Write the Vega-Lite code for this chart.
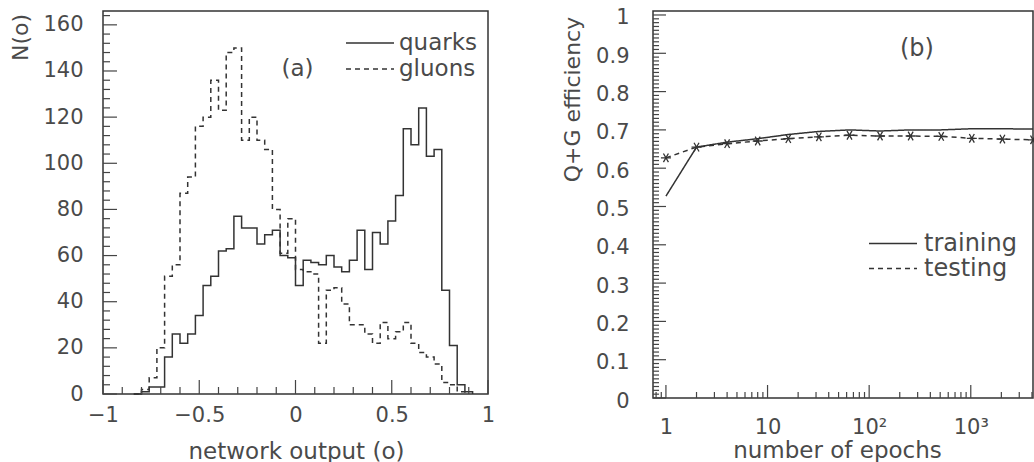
{
  "$schema": "https://vega.github.io/schema/vega-lite/v6.json",
  "padding": {"left": 8, "top": 6, "right": 0, "bottom": 0},
  "background": "white",
  "bounds": "flush",
  "spacing": 165,
  "datasets": {
    "hist": [
      {"s": "quarks", "x": -0.84, "n": 0}, {"s": "quarks", "x": -0.80, "n": 1}, {"s": "quarks", "x": -0.76, "n": 3}, {"s": "quarks", "x": -0.72, "n": 3},
      {"s": "quarks", "x": -0.68, "n": 16}, {"s": "quarks", "x": -0.64, "n": 26}, {"s": "quarks", "x": -0.60, "n": 22}, {"s": "quarks", "x": -0.56, "n": 26},
      {"s": "quarks", "x": -0.52, "n": 34}, {"s": "quarks", "x": -0.48, "n": 47}, {"s": "quarks", "x": -0.44, "n": 51}, {"s": "quarks", "x": -0.40, "n": 62},
      {"s": "quarks", "x": -0.36, "n": 63}, {"s": "quarks", "x": -0.32, "n": 77}, {"s": "quarks", "x": -0.28, "n": 72}, {"s": "quarks", "x": -0.24, "n": 72},
      {"s": "quarks", "x": -0.20, "n": 65}, {"s": "quarks", "x": -0.16, "n": 69}, {"s": "quarks", "x": -0.12, "n": 71}, {"s": "quarks", "x": -0.08, "n": 60},
      {"s": "quarks", "x": -0.04, "n": 59}, {"s": "quarks", "x": 0.00, "n": 47}, {"s": "quarks", "x": 0.04, "n": 58}, {"s": "quarks", "x": 0.08, "n": 57},
      {"s": "quarks", "x": 0.12, "n": 56}, {"s": "quarks", "x": 0.16, "n": 60}, {"s": "quarks", "x": 0.20, "n": 55}, {"s": "quarks", "x": 0.24, "n": 53},
      {"s": "quarks", "x": 0.28, "n": 58}, {"s": "quarks", "x": 0.32, "n": 71}, {"s": "quarks", "x": 0.36, "n": 54}, {"s": "quarks", "x": 0.40, "n": 70},
      {"s": "quarks", "x": 0.44, "n": 65}, {"s": "quarks", "x": 0.48, "n": 75}, {"s": "quarks", "x": 0.52, "n": 86}, {"s": "quarks", "x": 0.56, "n": 115},
      {"s": "quarks", "x": 0.60, "n": 108}, {"s": "quarks", "x": 0.64, "n": 124}, {"s": "quarks", "x": 0.68, "n": 103}, {"s": "quarks", "x": 0.72, "n": 106},
      {"s": "quarks", "x": 0.76, "n": 45}, {"s": "quarks", "x": 0.80, "n": 21}, {"s": "quarks", "x": 0.84, "n": 4}, {"s": "quarks", "x": 0.88, "n": 1},
      {"s": "quarks", "x": 0.92, "n": 0},
      {"s": "gluons", "x": -0.84, "n": 0}, {"s": "gluons", "x": -0.80, "n": 2}, {"s": "gluons", "x": -0.76, "n": 7}, {"s": "gluons", "x": -0.72, "n": 20},
      {"s": "gluons", "x": -0.68, "n": 51}, {"s": "gluons", "x": -0.64, "n": 56}, {"s": "gluons", "x": -0.60, "n": 87}, {"s": "gluons", "x": -0.56, "n": 94},
      {"s": "gluons", "x": -0.52, "n": 116}, {"s": "gluons", "x": -0.48, "n": 120}, {"s": "gluons", "x": -0.44, "n": 136}, {"s": "gluons", "x": -0.40, "n": 123},
      {"s": "gluons", "x": -0.36, "n": 148}, {"s": "gluons", "x": -0.32, "n": 150}, {"s": "gluons", "x": -0.28, "n": 110}, {"s": "gluons", "x": -0.24, "n": 120},
      {"s": "gluons", "x": -0.20, "n": 110}, {"s": "gluons", "x": -0.16, "n": 106}, {"s": "gluons", "x": -0.12, "n": 80}, {"s": "gluons", "x": -0.08, "n": 61},
      {"s": "gluons", "x": -0.04, "n": 76}, {"s": "gluons", "x": 0.00, "n": 54}, {"s": "gluons", "x": 0.04, "n": 53}, {"s": "gluons", "x": 0.08, "n": 52},
      {"s": "gluons", "x": 0.12, "n": 22}, {"s": "gluons", "x": 0.16, "n": 45}, {"s": "gluons", "x": 0.20, "n": 46}, {"s": "gluons", "x": 0.24, "n": 39},
      {"s": "gluons", "x": 0.28, "n": 30}, {"s": "gluons", "x": 0.32, "n": 30}, {"s": "gluons", "x": 0.36, "n": 26}, {"s": "gluons", "x": 0.40, "n": 22},
      {"s": "gluons", "x": 0.44, "n": 31}, {"s": "gluons", "x": 0.48, "n": 24}, {"s": "gluons", "x": 0.52, "n": 27}, {"s": "gluons", "x": 0.56, "n": 31},
      {"s": "gluons", "x": 0.60, "n": 22}, {"s": "gluons", "x": 0.64, "n": 18}, {"s": "gluons", "x": 0.68, "n": 16}, {"s": "gluons", "x": 0.72, "n": 13},
      {"s": "gluons", "x": 0.76, "n": 5}, {"s": "gluons", "x": 0.80, "n": 4}, {"s": "gluons", "x": 0.84, "n": 1}, {"s": "gluons", "x": 0.88, "n": 0}
    ],
    "eff": [
      {"run": "training", "epochs": 1, "eff": 0.527}, {"run": "training", "epochs": 2, "eff": 0.655}, {"run": "training", "epochs": 4, "eff": 0.668},
      {"run": "training", "epochs": 8, "eff": 0.677}, {"run": "training", "epochs": 16, "eff": 0.688}, {"run": "training", "epochs": 32, "eff": 0.696},
      {"run": "training", "epochs": 64, "eff": 0.700}, {"run": "training", "epochs": 128, "eff": 0.697}, {"run": "training", "epochs": 256, "eff": 0.700},
      {"run": "training", "epochs": 512, "eff": 0.700}, {"run": "training", "epochs": 1024, "eff": 0.703}, {"run": "training", "epochs": 2048, "eff": 0.703},
      {"run": "training", "epochs": 4096, "eff": 0.702},
      {"run": "testing", "epochs": 1, "eff": 0.627}, {"run": "testing", "epochs": 2, "eff": 0.655}, {"run": "testing", "epochs": 4, "eff": 0.664},
      {"run": "testing", "epochs": 8, "eff": 0.671}, {"run": "testing", "epochs": 16, "eff": 0.677}, {"run": "testing", "epochs": 32, "eff": 0.682},
      {"run": "testing", "epochs": 64, "eff": 0.686}, {"run": "testing", "epochs": 128, "eff": 0.684}, {"run": "testing", "epochs": 256, "eff": 0.684},
      {"run": "testing", "epochs": 512, "eff": 0.683}, {"run": "testing", "epochs": 1024, "eff": 0.678}, {"run": "testing", "epochs": 2048, "eff": 0.676},
      {"run": "testing", "epochs": 4096, "eff": 0.674}
    ]
  },
  "hconcat": [
    {
      "width": 385,
      "height": 383,
      "layer": [
        {
          "data": {"name": "hist"},
          "mark": {"type": "line", "interpolate": "step-after", "color": "#333", "strokeWidth": 1.5},
          "encoding": {
            "x": {"field": "x", "type": "quantitative", "scale": {"domain": [-1, 1], "nice": false, "zero": false},
              "axis": {"orient": "bottom", "values": [-1, -0.5, 0, 0.5, 1], "format": ".1~f", "ticks": false, "domain": false, "grid": false, "labelFlush": false, "labelOverlap": false, "labelPadding": 10, "labelFontSize": 21,
                "title": "network output (o)", "titleFontSize": 23, "titleX": 193, "titleY": 46, "titleBaseline": "top", "titleAlign": "center"}},
            "y": {"field": "n", "type": "quantitative", "scale": {"domain": [0, 166], "nice": false, "zero": false},
              "axis": {"orient": "left", "values": [0, 20, 40, 60, 80, 100, 120, 140, 160], "ticks": false, "domain": false, "grid": false, "labelOverlap": false, "labelPadding": 20, "labelFontSize": 21,
                "title": "N(o)", "titleFontSize": 22, "titleX": -76, "titleY": 26, "titleAngle": -90, "titleAlign": "center", "titleBaseline": "alphabetic"}},
            "strokeDash": {"field": "s", "type": "nominal", "sort": ["quarks", "gluons"], "scale": {"domain": ["quarks", "gluons"], "range": [[1, 0], [5, 4]]},
              "legend": {"orient": "none", "legendX": 242, "legendY": 19, "title": null, "symbolType": "stroke", "symbolSize": 2304, "symbolStrokeWidth": 1.5, "symbolStrokeColor": "#333",
                "clipHeight": 26, "rowPadding": 0, "padding": 0, "labelOffset": 4, "labelFontSize": 23}}
          }
        },
        {
          "data": {"values": [{}]},
          "mark": {"type": "text", "fontSize": 23, "color": "#4a4a4a", "align": "center", "baseline": "middle"},
          "encoding": {
            "x": {"datum": 0.01, "type": "quantitative", "scale": {"domain": [-1, 1], "nice": false, "zero": false}, "axis": null},
            "y": {"datum": 141, "type": "quantitative", "scale": {"domain": [0, 166], "nice": false, "zero": false}, "axis": null},
            "text": {"value": "(a)"}
          }
        },
        {
          "data": {"values": [{"v": -1}, {"v": -0.5}, {"v": 0}, {"v": 0.5}, {"v": 1}]},
          "mark": {"type": "rule", "color": "#444", "strokeWidth": 1.2},
          "encoding": {
            "x": {"field": "v", "type": "quantitative", "scale": {"domain": [-1, 1], "nice": false, "zero": false}, "axis": null},
            "y": {"datum": 0, "type": "quantitative", "scale": {"domain": [0, 166], "nice": false, "zero": false}, "axis": null},
            "y2": {"datum": 6.07}
          }
        },
        {
          "data": {"values": [{"v": -0.9}, {"v": -0.8}, {"v": -0.7}, {"v": -0.6}, {"v": -0.4}, {"v": -0.3}, {"v": -0.2}, {"v": -0.1}, {"v": 0.1}, {"v": 0.2}, {"v": 0.3}, {"v": 0.4}, {"v": 0.6}, {"v": 0.7}, {"v": 0.8}, {"v": 0.9}]},
          "mark": {"type": "rule", "color": "#444", "strokeWidth": 1.2},
          "encoding": {
            "x": {"field": "v", "type": "quantitative", "scale": {"domain": [-1, 1], "nice": false, "zero": false}, "axis": null},
            "y": {"datum": 0, "type": "quantitative", "scale": {"domain": [0, 166], "nice": false, "zero": false}, "axis": null},
            "y2": {"datum": 3.03}
          }
        },
        {
          "data": {"values": [{"v": 0}, {"v": 20}, {"v": 40}, {"v": 60}, {"v": 80}, {"v": 100}, {"v": 120}, {"v": 140}, {"v": 160}]},
          "mark": {"type": "rule", "color": "#444", "strokeWidth": 1.2},
          "encoding": {
            "x": {"datum": -1, "type": "quantitative", "scale": {"domain": [-1, 1], "nice": false, "zero": false}, "axis": null},
            "x2": {"datum": -0.9273},
            "y": {"field": "v", "type": "quantitative", "scale": {"domain": [0, 166], "nice": false, "zero": false}, "axis": null}
          }
        },
        {
          "data": {"values": [{"v": 4}, {"v": 8}, {"v": 12}, {"v": 16}, {"v": 24}, {"v": 28}, {"v": 32}, {"v": 36}, {"v": 44}, {"v": 48}, {"v": 52}, {"v": 56}, {"v": 64}, {"v": 68}, {"v": 72}, {"v": 76}, {"v": 84}, {"v": 88}, {"v": 92}, {"v": 96}, {"v": 104}, {"v": 108}, {"v": 112}, {"v": 116}, {"v": 124}, {"v": 128}, {"v": 132}, {"v": 136}, {"v": 144}, {"v": 148}, {"v": 152}, {"v": 156}, {"v": 164}]},
          "mark": {"type": "rule", "color": "#444", "strokeWidth": 1.2},
          "encoding": {
            "x": {"datum": -1, "type": "quantitative", "scale": {"domain": [-1, 1], "nice": false, "zero": false}, "axis": null},
            "x2": {"datum": -0.9636},
            "y": {"field": "v", "type": "quantitative", "scale": {"domain": [0, 166], "nice": false, "zero": false}, "axis": null}
          }
        }
      ],
      "resolve": {"scale": {"x": "independent", "y": "independent"}, "axis": {"x": "independent", "y": "independent"}}
    },
    {
      "width": 380,
      "height": 387,
      "layer": [
        {
          "data": {"name": "eff"},
          "mark": {"type": "line", "color": "#333", "strokeWidth": 1.5},
          "encoding": {
            "x": {"field": "epochs", "type": "quantitative", "scale": {"type": "log", "domain": [0.746, 4096], "nice": false},
              "axis": {"orient": "bottom", "values": [1, 10, 100, 1000], "ticks": false, "domain": false, "grid": false, "labelFlush": false, "labelOverlap": false, "labelPadding": 18, "labelFontSize": 21,
                "labelExpr": "datum.value == 1000 ? '10³' : datum.value == 100 ? '10²' : datum.value == 10 ? '10' : '1'",
                "title": "number of epochs", "titleFontSize": 23, "titleX": 184, "titleY": 41, "titleBaseline": "top", "titleAlign": "center"}},
            "y": {"field": "eff", "type": "quantitative", "scale": {"domain": [0, 1.0104], "nice": false, "zero": false},
              "axis": {"orient": "left", "values": [0, 0.1, 0.2, 0.3, 0.4, 0.5, 0.6, 0.7, 0.8, 0.9, 1], "format": ".1~f", "ticks": false, "domain": false, "grid": false, "labelOverlap": false, "labelPadding": 24, "labelOffset": 3, "labelFontSize": 21,
                "title": "Q+G efficiency", "titleFontSize": 22, "titleX": -74, "titleY": 88, "titleAngle": -90, "titleAlign": "center", "titleBaseline": "alphabetic"}},
            "strokeDash": {"field": "run", "type": "nominal", "sort": ["training", "testing"], "scale": {"domain": ["training", "testing"], "range": [[1, 0], [5, 4]]},
              "legend": {"orient": "none", "legendX": 215, "legendY": 222, "title": null, "symbolType": "stroke", "symbolSize": 2304, "symbolStrokeWidth": 1.5, "symbolStrokeColor": "#333",
                "clipHeight": 21, "rowPadding": 0, "padding": 0, "labelOffset": 6, "labelFontSize": 24}}
          }
        },
        {
          "data": {"name": "eff"},
          "transform": [{"filter": "datum.run === 'testing'"}],
          "mark": {"type": "point", "shape": "M-1,0L1,0M-0.5,-0.866L0.5,0.866M-0.5,0.866L0.5,-0.866", "filled": false, "size": 100, "color": "#333", "strokeWidth": 1.3, "opacity": 1},
          "encoding": {
            "x": {"field": "epochs", "type": "quantitative", "scale": {"type": "log", "domain": [0.746, 4096], "nice": false}, "axis": null},
            "y": {"field": "eff", "type": "quantitative", "scale": {"domain": [0, 1.0104], "nice": false, "zero": false}, "axis": null}
          }
        },
        {
          "data": {"values": [{}]},
          "mark": {"type": "text", "fontSize": 24, "color": "#4a4a4a", "align": "center", "baseline": "middle"},
          "encoding": {
            "x": {"datum": 295, "type": "quantitative", "scale": {"type": "log", "domain": [0.746, 4096], "nice": false}, "axis": null},
            "y": {"datum": 0.91, "type": "quantitative", "scale": {"domain": [0, 1.0104], "nice": false, "zero": false}, "axis": null},
            "text": {"value": "(b)"}
          }
        },
        {
          "data": {"values": [{"v": 1}, {"v": 10}, {"v": 100}, {"v": 1000}]},
          "mark": {"type": "rule", "color": "#444", "strokeWidth": 1.2},
          "encoding": {
            "x": {"field": "v", "type": "quantitative", "scale": {"type": "log", "domain": [0.746, 4096], "nice": false}, "axis": null},
            "y": {"datum": 0, "type": "quantitative", "scale": {"domain": [0, 1.0104], "nice": false, "zero": false}, "axis": null},
            "y2": {"datum": 0.0339}
          }
        },
        {
          "data": {"values": [{"v": 0.8}, {"v": 0.9}, {"v": 2}, {"v": 3}, {"v": 4}, {"v": 5}, {"v": 6}, {"v": 7}, {"v": 8}, {"v": 9}, {"v": 20}, {"v": 30}, {"v": 40}, {"v": 50}, {"v": 60}, {"v": 70}, {"v": 80}, {"v": 90}, {"v": 200}, {"v": 300}, {"v": 400}, {"v": 500}, {"v": 600}, {"v": 700}, {"v": 800}, {"v": 900}, {"v": 2000}, {"v": 3000}, {"v": 4000}]},
          "mark": {"type": "rule", "color": "#444", "strokeWidth": 1.2},
          "encoding": {
            "x": {"field": "v", "type": "quantitative", "scale": {"type": "log", "domain": [0.746, 4096], "nice": false}, "axis": null},
            "y": {"datum": 0, "type": "quantitative", "scale": {"domain": [0, 1.0104], "nice": false, "zero": false}, "axis": null},
            "y2": {"datum": 0.0157}
          }
        },
        {
          "data": {"values": [{"v": 0}, {"v": 0.1}, {"v": 0.2}, {"v": 0.3}, {"v": 0.4}, {"v": 0.5}, {"v": 0.6}, {"v": 0.7}, {"v": 0.8}, {"v": 0.9}, {"v": 1}]},
          "mark": {"type": "rule", "color": "#444", "strokeWidth": 1.2},
          "encoding": {
            "x": {"datum": 0.746, "type": "quantitative", "scale": {"type": "log", "domain": [0.746, 4096], "nice": false}, "axis": null},
            "x2": {"datum": 1.0014},
            "y": {"field": "v", "type": "quantitative", "scale": {"domain": [0, 1.0104], "nice": false, "zero": false}, "axis": null}
          }
        },
        {
          "data": {"values": [{"v": 0.01}, {"v": 0.02}, {"v": 0.03}, {"v": 0.04}, {"v": 0.05}, {"v": 0.06}, {"v": 0.07}, {"v": 0.08}, {"v": 0.09}, {"v": 0.11}, {"v": 0.12}, {"v": 0.13}, {"v": 0.14}, {"v": 0.15}, {"v": 0.16}, {"v": 0.17}, {"v": 0.18}, {"v": 0.19}, {"v": 0.21}, {"v": 0.22}, {"v": 0.23}, {"v": 0.24}, {"v": 0.25}, {"v": 0.26}, {"v": 0.27}, {"v": 0.28}, {"v": 0.29}, {"v": 0.31}, {"v": 0.32}, {"v": 0.33}, {"v": 0.34}, {"v": 0.35}, {"v": 0.36}, {"v": 0.37}, {"v": 0.38}, {"v": 0.39}, {"v": 0.41}, {"v": 0.42}, {"v": 0.43}, {"v": 0.44}, {"v": 0.45}, {"v": 0.46}, {"v": 0.47}, {"v": 0.48}, {"v": 0.49}, {"v": 0.51}, {"v": 0.52}, {"v": 0.53}, {"v": 0.54}, {"v": 0.55}, {"v": 0.56}, {"v": 0.57}, {"v": 0.58}, {"v": 0.59}, {"v": 0.61}, {"v": 0.62}, {"v": 0.63}, {"v": 0.64}, {"v": 0.65}, {"v": 0.66}, {"v": 0.67}, {"v": 0.68}, {"v": 0.69}, {"v": 0.71}, {"v": 0.72}, {"v": 0.73}, {"v": 0.74}, {"v": 0.75}, {"v": 0.76}, {"v": 0.77}, {"v": 0.78}, {"v": 0.79}, {"v": 0.81}, {"v": 0.82}, {"v": 0.83}, {"v": 0.84}, {"v": 0.85}, {"v": 0.86}, {"v": 0.87}, {"v": 0.88}, {"v": 0.89}, {"v": 0.91}, {"v": 0.92}, {"v": 0.93}, {"v": 0.94}, {"v": 0.95}, {"v": 0.96}, {"v": 0.97}, {"v": 0.98}, {"v": 0.99}]},
          "mark": {"type": "rule", "color": "#444", "strokeWidth": 1.2},
          "encoding": {
            "x": {"datum": 0.746, "type": "quantitative", "scale": {"type": "log", "domain": [0.746, 4096], "nice": false}, "axis": null},
            "x2": {"datum": 0.8548},
            "y": {"field": "v", "type": "quantitative", "scale": {"domain": [0, 1.0104], "nice": false, "zero": false}, "axis": null}
          }
        }
      ],
      "resolve": {"scale": {"x": "independent", "y": "independent"}, "axis": {"x": "independent", "y": "independent"}}
    }
  ],
  "resolve": {"scale": {"strokeDash": "independent"}, "legend": {"strokeDash": "independent"}},
  "config": {
    "font": "DejaVu Sans",
    "view": {"stroke": "#333", "strokeWidth": 1.5},
    "axis": {"labelFont": "DejaVu Sans", "titleFont": "DejaVu Sans", "labelColor": "#4a4a4a", "titleColor": "#4a4a4a", "titleFontWeight": "normal"},
    "legend": {"labelFont": "DejaVu Sans", "labelColor": "#4a4a4a"},
    "text": {"font": "DejaVu Sans"}
  }
}
